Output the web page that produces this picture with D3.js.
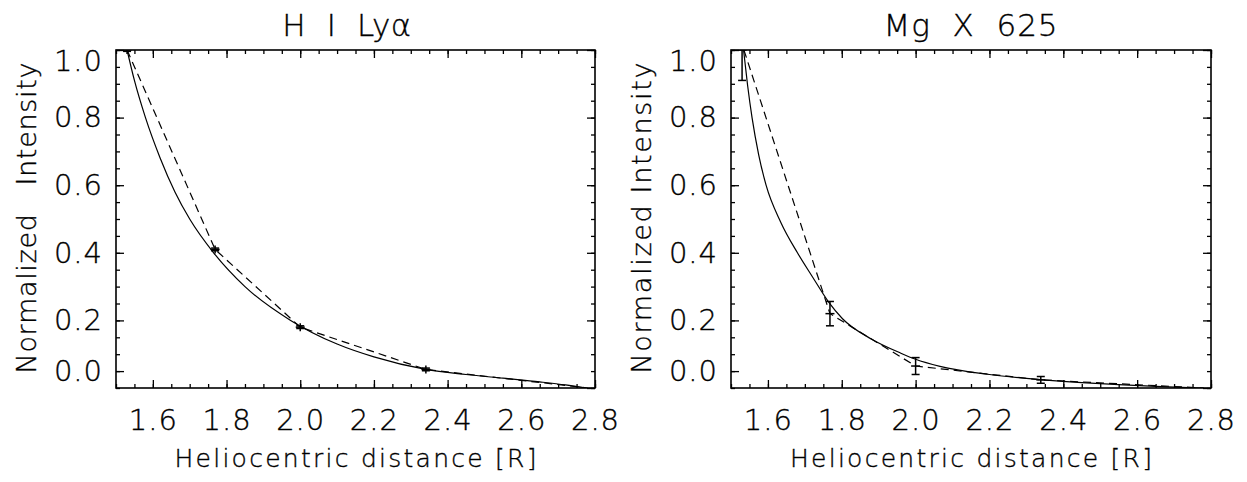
<!DOCTYPE html>
<html>
<head>
<meta charset="utf-8">
<script src="https://cdn.jsdelivr.net/npm/d3@7"></script>
<style>
  body { margin: 0; background: #fff; }
  svg text { font-family: "DejaVu Sans", sans-serif; font-weight: 200; fill: #000; stroke: #000; stroke-width: 0.35; white-space: pre; }
</style>
</head>
<body>
<div id="chart"></div>
<script>
// tick values and labels
const xMajor = [1.6, 1.8, 2.0, 2.2, 2.4, 2.6, 2.8];
const xLabels = ["1.6", "1.8", "2.0", "2.2", "2.4", "2.6", "2.8"];
const yMajor = [0.05, 0.2, 0.4, 0.6, 0.8, 1.0];
const yLabels = ["0.0", "0.2", "0.4", "0.6", "0.8", "1.0"];
const yRightMajor = [0.0, 0.2, 0.4, 0.6, 0.8, 1.0];

// H I Lya: fitted curve (solid), model (dashed), observed points
const lyaFitX = [1.53, 1.55, 1.58, 1.62, 1.66, 1.70, 1.765, 1.85, 1.974, 2.10, 2.20, 2.341, 2.45, 2.55, 2.65, 2.72, 2.775];
const lyaFitY = [1.00, 0.91, 0.80, 0.68, 0.58, 0.50, 0.40, 0.30, 0.20, 0.13, 0.092, 0.055, 0.040, 0.029, 0.018, 0.009, 0.0];
const lyaDashX = [1.53, 1.769, 2.0, 2.341, 2.78];
const lyaDashY = [1.0, 0.41, 0.18, 0.055, 0.0];
const lyaObsX = [1.53, 1.769, 2.0, 2.341];
const lyaObsY = [1.0, 0.41, 0.18, 0.055];
const lyaObsErr = [0.004, 0.004, 0.004, 0.004];

// Mg X 625
const mgFitX = [1.534, 1.545, 1.557, 1.575, 1.595, 1.635, 1.68, 1.72, 1.764, 1.802, 1.88, 1.96, 2.0, 2.066, 2.20, 2.337, 2.45, 2.55, 2.65, 2.72, 2.78];
const mgFitY = [1.0, 0.895, 0.80, 0.69, 0.60, 0.49, 0.40, 0.33, 0.255, 0.205, 0.145, 0.103, 0.085, 0.064, 0.040, 0.025, 0.016, 0.010, 0.005, 0.002, 0.0];
const mgDashX = [1.535, 1.768, 2.0, 2.339, 2.78];
const mgDashY = [1.0, 0.22, 0.065, 0.024, 0.0];
const mgObsX = [1.53, 1.768, 2.0, 2.339];
const mgObsY = [1.0, 0.22, 0.065, 0.024];
const mgObsErr = [0.09, 0.036, 0.025, 0.01];

const width = 1247, height = 482;
const plotTop = 50, plotBottom = 388;

const panels = [
  { title: "H  I  Ly\u03B1", titleSpacing: 0.5, titleX: 347, ytitle: "Normalized   Intensity", left: 116, right: 595,
    fitX: lyaFitX, fitY: lyaFitY, dashX: lyaDashX, dashY: lyaDashY, obsX: lyaObsX, obsY: lyaObsY, obsErr: lyaObsErr },
  { title: "Mg  X  625", titleSpacing: 1, titleX: 971, ytitle: "Normalized Intensity", left: 731, right: 1211,
    fitX: mgFitX, fitY: mgFitY, dashX: mgDashX, dashY: mgDashY, obsX: mgObsX, obsY: mgObsY, obsErr: mgObsErr }
];

const svg = d3.select("#chart").append("svg")
  .attr("width", width)
  .attr("height", height);

const xMinor = d3.range(30, 57).map(i => i / 20);
const yMinor = d3.range(0, 21).map(i => i / 20);

panels.forEach((p, k) => {
  const x = d3.scaleLinear().domain([1.5, 2.8]).range([p.left, p.right]);
  const y = d3.scaleLinear().domain([0, 1]).range([plotBottom, plotTop]);

  const clipId = "clip" + k;
  svg.append("clipPath").attr("id", clipId)
    .append("rect")
    .attr("x", p.left).attr("y", plotTop)
    .attr("width", p.right - p.left).attr("height", plotBottom - plotTop);

  const clean = g => {
    g.select(".domain").remove();
    g.attr("font-family", null).attr("font-size", null);
    g.selectAll("line").attr("stroke", "#000").attr("stroke-width", 1.3);
  };

  // minor ticks on all four sides
  svg.append("g").attr("transform", `translate(0,${plotBottom})`)
    .call(d3.axisBottom(x).tickValues(xMinor).tickSize(-4).tickFormat("")).call(clean);
  svg.append("g").attr("transform", `translate(0,${plotTop})`)
    .call(d3.axisTop(x).tickValues(xMinor).tickSize(-4).tickFormat("")).call(clean);
  svg.append("g").attr("transform", `translate(${p.left},0)`)
    .call(d3.axisLeft(y).tickValues(yMinor).tickSize(-4).tickFormat("")).call(clean);
  svg.append("g").attr("transform", `translate(${p.right},0)`)
    .call(d3.axisRight(y).tickValues(yMinor).tickSize(-4).tickFormat("")).call(clean);

  // major ticks + labels
  const xb = svg.append("g").attr("transform", `translate(0,${plotBottom})`)
    .call(d3.axisBottom(x).tickValues(xMajor).tickSize(-8).tickPadding(21)
      .tickFormat((d, i) => xLabels[i]))
    .call(clean);
  xb.selectAll("text").attr("font-size", 29).attr("letter-spacing", 1);

  svg.append("g").attr("transform", `translate(0,${plotTop})`)
    .call(d3.axisTop(x).tickValues(xMajor).tickSize(-8).tickFormat("")).call(clean);

  const yl = svg.append("g").attr("transform", `translate(${p.left},0)`)
    .call(d3.axisLeft(y).tickValues(yMajor).tickSize(-8).tickPadding(13)
      .tickFormat((d, i) => yLabels[i]))
    .call(clean);
  yl.selectAll("text").attr("font-size", 29).attr("letter-spacing", 1)
    .attr("y", d => Math.max(0, plotTop + 11 - y(d)));

  svg.append("g").attr("transform", `translate(${p.right},0)`)
    .call(d3.axisRight(y).tickValues(yRightMajor).tickSize(-8).tickFormat("")).call(clean);

  // plot box
  svg.append("rect")
    .attr("x", p.left).attr("y", plotTop)
    .attr("width", p.right - p.left).attr("height", plotBottom - plotTop)
    .attr("fill", "none").attr("stroke", "#000").attr("stroke-width", 1.6);

  const plot = svg.append("g").attr("clip-path", `url(#${clipId})`);

  const line = d3.line().x(d => x(d[0])).y(d => y(d[1]));
  const lineSmooth = d3.line().curve(d3.curveMonotoneX).x(d => x(d[0])).y(d => y(d[1]));

  plot.append("path")
    .datum(p.fitX.map((v, i) => [v, p.fitY[i]]))
    .attr("d", lineSmooth)
    .attr("fill", "none").attr("stroke", "#000").attr("stroke-width", 1.2);

  plot.append("path")
    .datum(p.dashX.map((v, i) => [v, p.dashY[i]]))
    .attr("d", line)
    .attr("fill", "none").attr("stroke", "#000").attr("stroke-width", 1.2)
    .attr("stroke-dasharray", "8,5");

  // observed points: plus marker with error bar and caps
  const obs = p.obsX.map((v, i) => ({ x: v, y: p.obsY[i], e: p.obsErr[i] }));
  const pts = plot.selectAll(".pt").data(obs).enter().append("g")
    .attr("stroke", "#000").attr("stroke-width", 1.5);
  pts.append("line")
    .attr("x1", d => x(d.x)).attr("x2", d => x(d.x))
    .attr("y1", d => Math.max(y(d.y - d.e), y(d.y) + 4))
    .attr("y2", d => Math.min(y(d.y + d.e), y(d.y) - 4));
  pts.append("line")
    .attr("x1", d => x(d.x) - 4.5).attr("x2", d => x(d.x) + 4.5)
    .attr("y1", d => y(d.y)).attr("y2", d => y(d.y));
  pts.append("line")
    .attr("x1", d => x(d.x) - 4).attr("x2", d => x(d.x) + 4)
    .attr("y1", d => y(d.y - d.e)).attr("y2", d => y(d.y - d.e));
  pts.append("line")
    .attr("x1", d => x(d.x) - 4).attr("x2", d => x(d.x) + 4)
    .attr("y1", d => y(d.y + d.e)).attr("y2", d => y(d.y + d.e));

  // titles
  svg.append("text")
    .attr("x", p.titleX).attr("y", 36)
    .attr("text-anchor", "middle")
    .attr("font-size", 31)
    .attr("letter-spacing", p.titleSpacing)
    .text(p.title);

  svg.append("text")
    .attr("x", (p.left + p.right) / 2).attr("y", 467)
    .attr("text-anchor", "middle")
    .attr("font-size", 25)
    .attr("textLength", 362).attr("lengthAdjust", "spacing")
    .text("Heliocentric distance [R]");

  svg.append("text")
    .attr("transform", `translate(${p.left - 80},${(plotTop + plotBottom) / 2 - 1}) rotate(-90)`)
    .attr("text-anchor", "middle")
    .attr("font-size", 27)
    .attr("textLength", 311).attr("lengthAdjust", "spacing")
    .text(p.ytitle);
});
</script>
</body>
</html>
